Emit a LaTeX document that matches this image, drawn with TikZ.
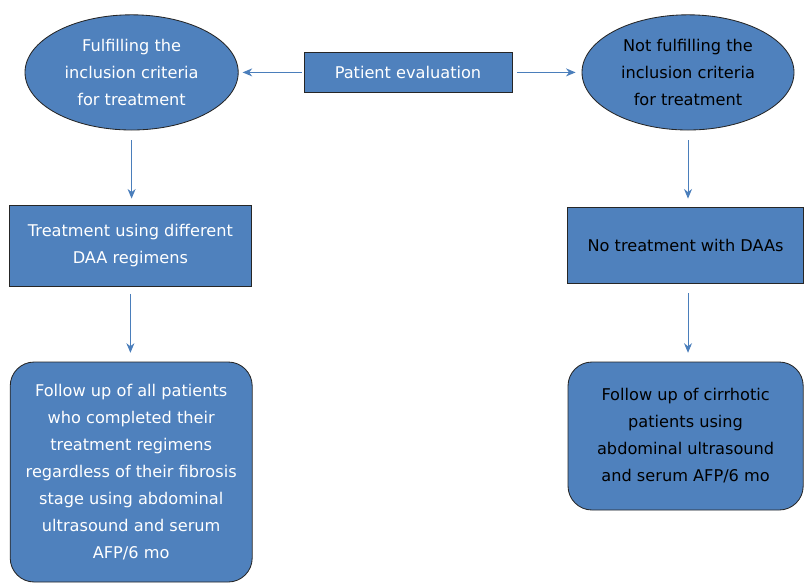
\documentclass[tikz,border=0pt]{standalone}
\usepackage{fontspec}
\setmainfont{DejaVu Sans}
\usetikzlibrary{shapes.geometric,arrows.meta}
\definecolor{boxblue}{HTML}{4F81BD}
\definecolor{edgeblue}{HTML}{4A7EBB}
\definecolor{rimgrey}{HTML}{262626}
\tikzset{
  oval/.style={ellipse, draw=rimgrey, fill=boxblue, line width=0.6pt, inner sep=0pt, align=center},
  plainbox/.style={rectangle, draw=rimgrey, fill=boxblue, line width=0.6pt, inner sep=0pt, align=center},
  roundbox/.style={plainbox, rounded corners=0.6cm},
  flow/.style={-{Stealth[length=2.4mm,width=2mm]}, edgeblue, line width=0.7pt},
}
\begin{document}
\begin{tikzpicture}[font=\fontsize{11.5}{19.2}\selectfont]
    \useasboundingbox (0,0) rectangle (20.1,-14.575);
    % top row
    \node[plainbox, minimum width=5.2cm, minimum height=0.98cm, text=white] (eval) at (10.2,-1.81) {Patient evaluation};
    \node[oval, minimum width=5.33cm, minimum height=2.88cm, text=white] (fulfil) at (3.29,-1.81) {Fulfilling the\\inclusion criteria\\for treatment};
    \node[oval, minimum width=5.3cm, minimum height=2.88cm, text=black] (notfulfil) at (17.2,-1.81) {Not fulfilling the\\inclusion criteria\\for treatment};
    % middle row
    \node[plainbox, minimum width=6.03cm, minimum height=2.03cm, text=white] (treat) at (3.26,-6.14) {Treatment using different\\DAA regimens};
    \node[plainbox, minimum width=5.9cm, minimum height=1.9cm, text=black] (notreat) at (17.14,-6.125) {No treatment with DAAs};
    % bottom row
    \node[roundbox, minimum width=6.05cm, minimum height=5.5cm, text=white] (followall) at (3.28,-11.8) {Follow up of all patients\\who completed their\\treatment regimens\\regardless of their fibrosis\\stage using abdominal\\ultrasound and serum\\AFP/6 mo};
    \node[roundbox, minimum width=5.88cm, minimum height=3.7cm, text=black] (followcirr) at (17.14,-10.9) {Follow up of cirrhotic\\patients using\\abdominal ultrasound\\and serum AFP/6 mo};
    % connectors
    \draw[flow, shorten <=0.05cm, shorten >=0.1cm] (eval.west) -- (fulfil.east);
    \draw[flow, shorten <=0.12cm, shorten >=0.15cm] (eval.east) -- (notfulfil.west);
    \draw[flow, shorten <=0.25cm, shorten >=0.15cm] (fulfil.south) -- (fulfil.south |- treat.north);
    \draw[flow, shorten <=0.18cm, shorten >=0.22cm] (treat.south) -- (treat.south |- followall.north);
    \draw[flow, shorten <=0.25cm, shorten >=0.2cm] (notfulfil.south) -- (notfulfil.south |- notreat.north);
    \draw[flow, shorten <=0.25cm, shorten >=0.22cm] (notfulfil.south |- notreat.south) -- (notfulfil.south |- followcirr.north);
\end{tikzpicture}
\end{document}
